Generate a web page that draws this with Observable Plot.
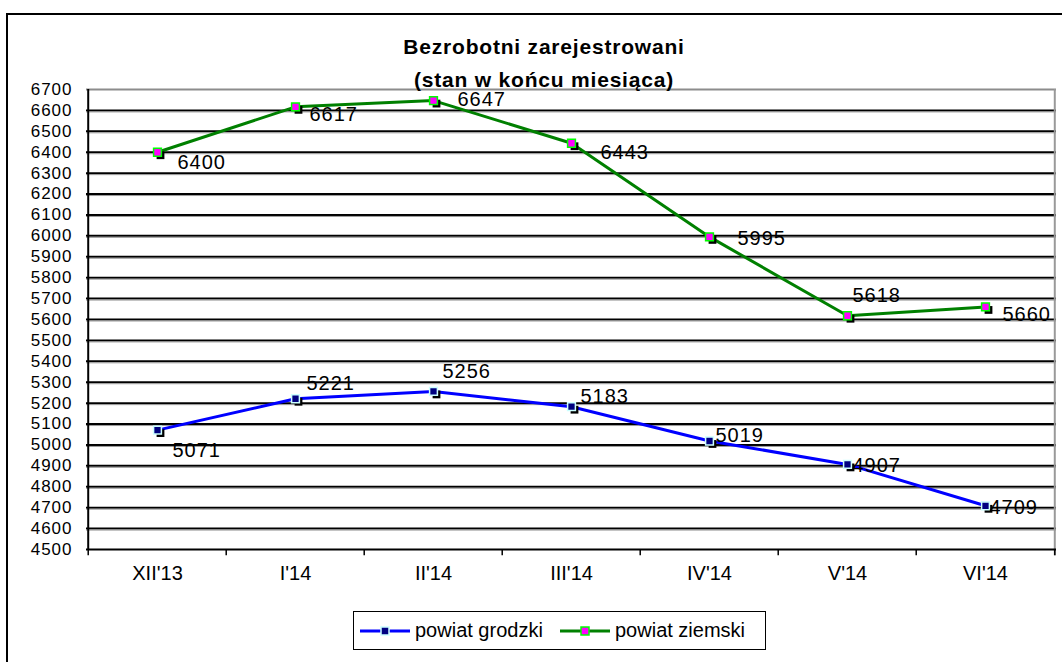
<!DOCTYPE html>
<html><head><meta charset="utf-8">
<script src="https://cdn.jsdelivr.net/npm/d3@7"></script>
<script src="https://cdn.jsdelivr.net/npm/@observablehq/plot@0.6"></script>
<style>
html,body{margin:0;padding:0;background:#fff;overflow:hidden;}
#wrap{position:relative;width:1062px;height:662px;font-family:"Liberation Sans",Arial,sans-serif;color:#000;}
#border{position:absolute;left:6px;top:13px;width:1200px;height:800px;border:2px solid #000;box-sizing:border-box;}
#chart{position:absolute;left:0;top:0;}
#title{position:absolute;left:344px;top:30px;width:400px;text-align:center;font-weight:bold;font-size:21px;line-height:33px;letter-spacing:0.8px;}
#legend{position:absolute;left:353px;top:611px;width:413px;height:39px;border:1.5px solid #000;box-sizing:border-box;background:#fff;}
#legend .item{position:absolute;top:0;height:37px;display:flex;align-items:center;font-size:20px;}
#legend svg{display:block;margin-right:4px;}
</style></head>
<body>
<div id="wrap">
  <div id="border"></div>
  <div id="chart"></div>
  <div id="title">Bezrobotni zarejestrowani<br>(stan w końcu miesiąca)</div>
  <div id="legend"></div>
</div>
<script>
// ---- data ----
const categories = ["XII'13", "I'14", "II'14", "III'14", "IV'14", "V'14", "VI'14"];
const grodzki = [5071, 5221, 5256, 5183, 5019, 4907, 4709];
const ziemski = [6400, 6617, 6647, 6443, 5995, 5618, 5660];
const seriesNames = ["powiat grodzki", "powiat ziemski"];
const yTicks = d3.range(4500, 6701, 100);

// label offsets (layout only)
const grodzkiDx = [15, 11, 9, 9, 6, 5, 4];
const grodzkiDy = [20, -15, -20, -10, -5, 1, 2];
const ziemskiDx = [20, 14, 24, 29, 28, 5, 17];
const ziemskiDy = [10, 8, -1, 9, 2, -20, 8];

const W = 1062, H = 662, mL = 86, mR = 6, mT = 89, mB = 113;
const step = (W - mL - mR) / categories.length;

const gData = categories.map((c, i) => ({cat: c, v: grodzki[i], dx: grodzkiDx[i], dy: grodzkiDy[i]}));
const zData = categories.map((c, i) => ({cat: c, v: ziemski[i], dx: ziemskiDx[i], dy: ziemskiDy[i]}));

const styles = {
  g: {line: "#0000FF", fill: "#000080", stroke: "#CCFFFF"},
  z: {line: "#008000", fill: "#FF00FF", stroke: "#00FF00"}
};

function seriesMarks(data, st) {
  return [
    Plot.line(data, {x: "cat", y: "v", stroke: st.line, strokeWidth: 3}),
    Plot.dot(data, {x: "cat", y: "v", symbol: "square", r: 4.4, fill: "#000", dx: 3, dy: 3}),
    Plot.dot(data, {x: "cat", y: "v", symbol: "square", r: 4.4, fill: st.fill, stroke: st.stroke, strokeWidth: 1.5}),
    ...data.map(d => Plot.text([d], {x: "cat", y: "v", text: d => String(d.v), dx: d.dx, dy: d.dy,
      textAnchor: "start", lineAnchor: "middle", fontSize: 20, fill: "#000"}))
  ];
}

const inner = yTicks.filter(t => t > 4500 && t < 6700);
const chart = Plot.plot({
  width: W, height: H,
  marginLeft: mL, marginRight: mR, marginTop: mT, marginBottom: mB,
  style: {background: "transparent", fontFamily: "Liberation Sans, Arial, sans-serif", overflow: "visible"},
  x: {type: "point", domain: categories, padding: 0.5, axis: null},
  y: {domain: [4500, 6700], axis: null},
  marks: [
    Plot.ruleY(inner, {y: d => d, stroke: "#000", strokeWidth: 2}),
    Plot.ruleY(inner, {y: d => d, stroke: "#999", strokeWidth: 1, dy: 1.5}),
    Plot.ruleY([6700], {y: d => d, stroke: "#8c8c8c", strokeWidth: 2}),
    Plot.ruleX([categories[categories.length - 1]], {x: d => d, dx: step / 2, y1: 4470, y2: 6700, stroke: "#999", strokeWidth: 2}),
    Plot.ruleX([categories[categories.length - 1]], {x: d => d, dx: step / 2, y1: 4470, y2: 4500, stroke: "#000", strokeWidth: 1.5}),
    Plot.ruleY([4500], {y: d => d, stroke: "#000", strokeWidth: 2}),
    Plot.ruleX(categories, {x: d => d, dx: -step / 2, y1: 4470, y2: 4500, stroke: "#000", strokeWidth: 1.5}),
    Plot.ruleX([categories[0]], {x: d => d, dx: -step / 2, y1: 4500, y2: 6700, stroke: "#000", strokeWidth: 2}),
    Plot.ruleY(yTicks, {y: d => d, x1: categories[0], x2: categories[0], dx: -step / 2, insetLeft: -7, stroke: "#000", strokeWidth: 1.5}),
    Plot.text(yTicks, {y: d => d, frameAnchor: "left", dx: -14, textAnchor: "end", text: d => String(d), fontSize: 17, fill: "#000"}),
    Plot.text(categories, {x: d => d, y: 4500, dy: 24, text: d => d, fontSize: 20, lineAnchor: "middle", fill: "#000"}),
    ...seriesMarks(gData, styles.g),
    ...seriesMarks(zData, styles.z)
  ]
});
d3.select(chart).selectAll("text")
  .filter(function () { return /^\d{4}$/.test(this.textContent); })
  .attr("letter-spacing", 1);
document.getElementById("chart").appendChild(chart);

// legend
const legend = document.getElementById("legend");
const items = [
  {name: seriesNames[0], st: styles.g, left: 5},
  {name: seriesNames[1], st: styles.z, left: 205}
];
items.forEach(it => {
  const div = document.createElement("div");
  div.className = "item";
  div.style.left = it.left + "px";
  div.innerHTML = `<svg width="52" height="12"><line x1="1" y1="6" x2="51" y2="6" stroke="${it.st.line}" stroke-width="3"/>` +
    `<rect x="22" y="2" width="8" height="8" fill="${it.st.fill}" stroke="${it.st.stroke}" stroke-width="1.5"/></svg>` +
    `<span>${it.name}</span>`;
  legend.appendChild(div);
});
</script>
</body></html>
